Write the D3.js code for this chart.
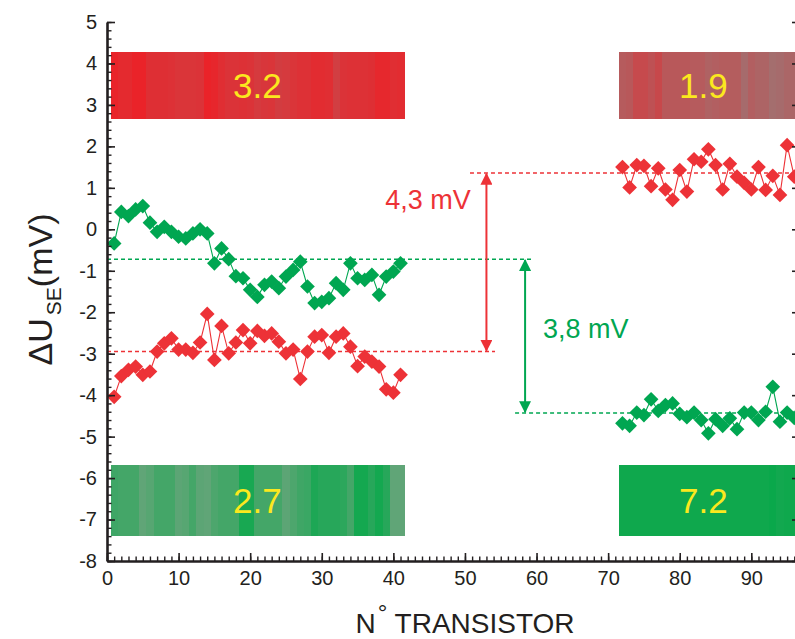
<!DOCTYPE html>
<html><head><meta charset="utf-8">
<script src="https://cdn.jsdelivr.net/npm/d3@7/dist/d3.min.js"></script>
<style>body{margin:0;background:#fff}svg{display:block}</style>
</head><body>
<svg id="c" width="795" height="639"></svg>
<script>
// ---------- data ----------
const leftN  = [1,2,3,4,5,6,7,8,9,10,11,12,13,14,15,16,17,18,19,20,21,22,23,24,25,26,27,28,29,30,31,32,33,34,35,36,37,38,39,40,41];
const rightN = [72,73,74,75,76,77,78,79,80,81,82,83,84,85,86,87,88,89,90,91,92,93,94,95,96];

const greenLeft = [-0.34,0.42,0.32,0.48,0.56,0.16,-0.06,0.06,-0.06,-0.18,-0.22,-0.1,0.0,-0.1,-0.82,-0.46,-0.72,-1.13,-1.18,-1.46,-1.63,-1.34,-1.26,-1.42,-1.14,-0.98,-0.78,-1.38,-1.78,-1.75,-1.66,-1.3,-1.46,-0.82,-1.18,-1.22,-1.1,-1.58,-1.14,-1.02,-0.82];
const redLeft   = [-4.04,-3.54,-3.39,-3.31,-3.51,-3.43,-2.95,-2.75,-2.63,-2.9,-2.9,-2.98,-2.73,-2.04,-3.15,-2.33,-2.99,-2.73,-2.43,-2.75,-2.45,-2.57,-2.51,-2.71,-2.99,-2.9,-3.61,-2.95,-2.59,-2.55,-2.98,-2.59,-2.51,-2.83,-3.3,-3.07,-3.19,-3.31,-3.86,-3.94,-3.51];
const redRight  = [1.5,1.01,1.55,1.53,1.04,1.47,0.96,0.71,1.43,0.91,1.69,1.63,1.93,1.55,0.96,1.58,1.27,1.12,0.96,1.5,0.95,1.29,0.83,2.03,1.27];
const greenRight= [-4.68,-4.74,-4.42,-4.48,-4.1,-4.38,-4.24,-4.2,-4.45,-4.53,-4.42,-4.6,-4.92,-4.58,-4.74,-4.56,-4.82,-4.42,-4.42,-4.6,-4.4,-3.8,-4.64,-4.42,-4.55];

// per-transistor stripe shade (0 = saturated, 1 = greyish)
const stripeRedLeft   = [0.04,0.1,0.1,0.02,0.02,0.17,0.17,0.17,0.19,0.23,0.23,0.23,0.21,0.02,0.06,0.15,0.21,0.21,0.19,0.21,0.29,0.25,0.23,0.32,0.29,0.23,0.19,0.19,0.13,0.13,0.15,0.34,0.21,0.19,0.19,0.19,0.17,0.08,0.08,0.15,0.13];
const stripeRedRight  = [0.68,0.65,0.48,0.48,0.57,0.46,0.65,0.65,0.65,0.65,0.68,0.68,0.76,0.73,0.7,0.7,0.7,0.87,0.73,0.79,0.79,0.9,0.87,0.81,0.81];
const stripeGreenLeft = [0.55,0.6,0.6,0.6,0.9,0.8,0.6,0.6,0.6,0.85,0.8,0.6,0.85,0.9,0.7,0.6,0.6,0.6,0.15,0.15,0.6,0.6,0.6,0.6,0.85,0.7,0.55,0.5,0.2,0.3,0.3,0.3,0.35,0.6,0.1,0.1,0.3,0.1,0.3,0.9,0.9];
const stripeGreenRight= [0.05,0.05,0.05,0.05,0.05,0.05,0.05,0.05,0.05,0.05,0.05,0.05,0.05,0.05,0.05,0.05,0.05,0.05,0.05,0.05,0.05,0.0,0.08,0.05,0.05];

const barLabels = ["3.2","1.9","2.7","7.2"];
const refRed   = [-2.95, 1.36];   // lower (left group), upper (right group)
const refGreen = [-0.72, -4.43];  // upper (left group), lower (right group)
const gapLabels = ["4,3 mV","3,8 mV"];

const xTicks = [0,10,20,30,40,50,60,70,80,90];
const yTicks = [-8,-7,-6,-5,-4,-3,-2,-1,0,1,2,3,4,5];

// ---------- scales ----------
const RED = "#ed3237", GREEN = "#00a651", AX = "#231f20";
const x = d3.scaleLinear().domain([0, 96.8]).range([107, 800]);
const y = d3.scaleLinear().domain([-8, 5]).range([561, 22]);
const redShade   = d3.interpolateRgb("#ec2127", "#9c7676");
const greenShade = d3.interpolateRgb("#0aa84b", "#6aa57c");

const svg = d3.select("#c");
const font = "'Liberation Sans', Arial, Helvetica, sans-serif";

// ---------- striped bars ----------
const bars = [
  {n: leftN,  t: stripeRedLeft,   shade: redShade,   y0: 2.65,  y1: 4.28,  lx: 21,   label: barLabels[0]},
  {n: rightN, t: stripeRedRight,  shade: redShade,   y0: 2.65,  y1: 4.28,  lx: 83.3, label: barLabels[1]},
  {n: leftN,  t: stripeGreenLeft, shade: greenShade, y0: -7.39, y1: -5.68, lx: 21,   label: barLabels[2]},
  {n: rightN, t: stripeGreenRight,shade: greenShade, y0: -7.39, y1: -5.68, lx: 83.3, label: barLabels[3]}
];
bars.forEach(b => {
  const g = svg.append("g");
  g.selectAll("rect").data(b.n).join("rect")
    .attr("x", d => x(d - 0.5))
    .attr("width", d => x(d + 0.5) - x(d - 0.5) + 0.5)
    .attr("y", y(b.y1))
    .attr("height", y(b.y0) - y(b.y1))
    .attr("fill", (d, i) => b.shade(b.t[i]))
    .attr("shape-rendering", "crispEdges");
  g.append("text")
    .attr("x", x(b.lx)).attr("y", y((b.y0 + b.y1) / 2))
    .attr("text-anchor", "middle").attr("dy", "0.36em")
    .attr("font-family", font).attr("font-size", 35)
    .attr("fill", "#fbe81e").text(b.label);
});

// ---------- reference dashed lines ----------
const dashes = [
  {v: refRed[0],   a: 0,    b: 54.2, c: RED},
  {v: refRed[1],   a: 50.7, b: 96.8, c: RED},
  {v: refGreen[0], a: 0,    b: 59.3, c: GREEN},
  {v: refGreen[1], a: 57.0, b: 96.8, c: GREEN}
];
svg.append("g").selectAll("line").data(dashes).join("line")
  .attr("x1", d => x(d.a)).attr("x2", d => x(d.b))
  .attr("y1", d => y(d.v)).attr("y2", d => y(d.v))
  .attr("stroke", d => d.c).attr("stroke-width", 1.5)
  .attr("stroke-dasharray", "4,3");

// ---------- arrows ----------
const defs = svg.append("defs");
[["r", RED], ["g", GREEN]].forEach(([id, c]) => {
  defs.append("marker").attr("id", "ah" + id)
    .attr("viewBox", "0 0 10 10").attr("refX", 9).attr("refY", 5)
    .attr("markerWidth", 6).attr("markerHeight", 6)
    .attr("markerUnits", "strokeWidth").attr("orient", "auto-start-reverse")
    .append("path").attr("d", "M0,0 L10,5 L0,10 Z").attr("fill", c);
});
const arrows = [
  {xv: 53.0, a: refRed[1],   b: refRed[0],   c: RED,   id: "r"},
  {xv: 58.4, a: refGreen[0], b: refGreen[1], c: GREEN, id: "g"}
];
svg.append("g").selectAll("line").data(arrows).join("line")
  .attr("x1", d => x(d.xv)).attr("x2", d => x(d.xv))
  .attr("y1", d => y(d.a) + 1).attr("y2", d => y(d.b) - 1)
  .attr("stroke", d => d.c).attr("stroke-width", 2)
  .attr("marker-start", d => `url(#ah${d.id})`)
  .attr("marker-end", d => `url(#ah${d.id})`);

svg.append("text").attr("x", x(50.8)).attr("y", y(0.5))
  .attr("text-anchor", "end").attr("font-family", font).attr("font-size", 27)
  .attr("fill", RED).text(gapLabels[0]);
svg.append("text").attr("x", x(60.9)).attr("y", y(-2.62))
  .attr("text-anchor", "start").attr("font-family", font).attr("font-size", 27)
  .attr("fill", GREEN).text(gapLabels[1]);

// ---------- series ----------
const series = [
  {n: leftN,  v: greenLeft,  c: GREEN},
  {n: leftN,  v: redLeft,    c: RED},
  {n: rightN, v: redRight,   c: RED},
  {n: rightN, v: greenRight, c: GREEN}
];
const line = d3.line().x(d => x(d[0])).y(d => y(d[1]));
const diamond = d3.symbol().type(d3.symbolSquare).size(108);
series.forEach(s => {
  const pts = s.n.map((n, i) => [n, s.v[i]]);
  const g = svg.append("g");
  g.append("path").attr("d", line(pts)).attr("fill", "none")
    .attr("stroke", s.c).attr("stroke-width", 1.1);
  g.selectAll("path.pt").data(pts).join("path").attr("class", "pt")
    .attr("d", diamond)
    .attr("transform", d => `translate(${x(d[0])},${y(d[1])}) rotate(45)`)
    .attr("fill", s.c);
});

// ---------- axes ----------
function styleAxis(g, w) {
  g.select(".domain").attr("stroke", AX).attr("stroke-width", w);
  g.selectAll(".tick line").attr("stroke", AX).attr("stroke-width", 1.6);
  g.selectAll(".tick text").attr("fill", AX).attr("font-family", font).attr("font-size", 20);
}
const yMinor = d3.range(-8, 5.001, 0.2).map(v => +v.toFixed(1));
const xMinor = d3.range(0, 97, 1);

// left
svg.append("g").attr("transform", `translate(${x(0)},0)`)
  .call(d3.axisLeft(y).tickValues(yMinor).tickSizeInner(-4.5).tickSizeOuter(0).tickFormat(""))
  .call(g => { g.select(".domain").remove(); g.selectAll(".tick line").attr("stroke", AX).attr("stroke-width", 1.4); });
svg.append("g").attr("transform", `translate(${x(0)},0)`)
  .call(d3.axisLeft(y).tickValues(yTicks).tickSizeInner(-8).tickSizeOuter(0).tickPadding(10).tickFormat(d => String(d)))
  .call(g => styleAxis(g, 2.6));
// right
svg.append("g").attr("transform", `translate(${x(96.8)},0)`)
  .call(d3.axisLeft(y).tickValues(yTicks).tickSizeInner(8).tickSizeOuter(0).tickFormat(""))
  .call(g => styleAxis(g, 2.6));
svg.append("g").attr("transform", `translate(${x(96.8)},0)`)
  .call(d3.axisLeft(y).tickValues(yMinor).tickSizeInner(4.5).tickSizeOuter(0).tickFormat(""))
  .call(g => { g.select(".domain").remove(); g.selectAll(".tick line").attr("stroke", AX).attr("stroke-width", 1.4); });
// bottom
svg.append("g").attr("transform", `translate(0,${y(-8)})`)
  .call(d3.axisBottom(x).tickValues(xMinor).tickSizeInner(-4.5).tickSizeOuter(0).tickFormat(""))
  .call(g => { g.select(".domain").remove(); g.selectAll(".tick line").attr("stroke", AX).attr("stroke-width", 1.4); });
svg.append("g").attr("transform", `translate(0,${y(-8)})`)
  .call(d3.axisBottom(x).tickValues(xTicks).tickSizeInner(-8).tickSizeOuter(0).tickPadding(10).tickFormat(d => String(d)))
  .call(g => styleAxis(g, 2.6));

// ---------- axis titles ----------
const yl = svg.append("text")
  .attr("transform", `translate(52,${(y(-8)+y(5))/2 - 2}) rotate(-90)`)
  .attr("text-anchor", "middle").attr("font-family", font).attr("font-size", 34).attr("fill", AX);
yl.append("tspan").text("ΔU");
yl.append("tspan").attr("font-size", 21).attr("dy", 9).attr("dx", 3).text("SE");
yl.append("tspan").attr("dy", -9).text("(mV)");

const xl = svg.append("text")
  .attr("x", 465).attr("y", 633)
  .attr("text-anchor", "middle").attr("font-family", font).attr("font-size", 28).attr("fill", AX);
xl.append("tspan").text("N");
xl.append("tspan").attr("font-size", 24).attr("dy", -12).attr("dx", 2).text("°");
xl.append("tspan").attr("dy", 12).text(" TRANSISTOR");
</script>
</body></html>
